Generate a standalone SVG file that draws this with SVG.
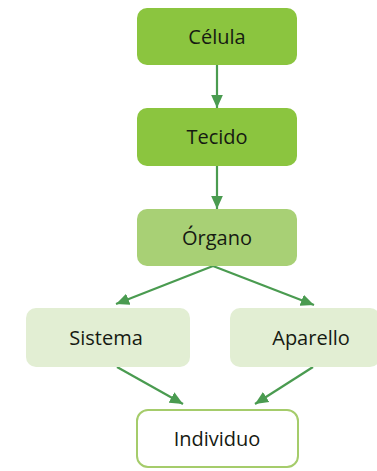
<svg xmlns="http://www.w3.org/2000/svg" width="377" height="471" viewBox="0 0 377 471">
<style>
.t{font-family:"Open Sans","DejaVu Sans",sans-serif;font-size:20px;fill:#161a12;text-anchor:middle}
.c{stroke:#4a9b50;stroke-width:2.2;fill:none}
</style>
<defs>
<marker id="ah" viewBox="0 0 10 10" refX="10" refY="5" markerWidth="6" markerHeight="6" orient="auto" markerUnits="strokeWidth">
<path d="M0,0.5 L10,5 L0,9.5 z" fill="#4a9b50"/>
</marker>
</defs>
<rect width="377" height="471" fill="#ffffff"/>
<g id="connectors">
<line class="c" x1="217" y1="65" x2="217" y2="108" marker-end="url(#ah)"/>
<line class="c" x1="217" y1="166" x2="217" y2="209" marker-end="url(#ah)"/>
<line class="c" x1="213" y1="266" x2="116" y2="304" marker-end="url(#ah)"/>
<line class="c" x1="213" y1="266" x2="314" y2="305" marker-end="url(#ah)"/>
<line class="c" x1="117" y1="367" x2="183" y2="404" marker-end="url(#ah)"/>
<line class="c" x1="313" y1="367" x2="255" y2="404" marker-end="url(#ah)"/>
</g>
<g id="celula">
<rect x="137" y="8" width="160" height="57" rx="10" fill="#8bc53f"/>
<text class="t" x="217" y="44">Célula</text>
</g>
<g id="tecido">
<rect x="137" y="108" width="160" height="58" rx="10" fill="#8bc53f"/>
<text class="t" x="217" y="144">Tecido</text>
</g>
<g id="organo">
<rect x="137" y="209" width="160" height="57" rx="10" fill="#a8d075"/>
<text class="t" x="217" y="245">Órgano</text>
</g>
<g id="sistema">
<rect x="26" y="308" width="164" height="59" rx="10" fill="#e2eed3"/>
<text class="t" x="106" y="345">Sistema</text>
</g>
<g id="aparello">
<rect x="230" y="308" width="150" height="59" rx="10" fill="#e2eed3"/>
<text class="t" x="311" y="345">Aparello</text>
</g>
<g id="individuo">
<rect x="137" y="410" width="161" height="57" rx="11" fill="#ffffff" stroke="#a5cc6b" stroke-width="2"/>
<text class="t" x="217" y="446">Individuo</text>
</g>
</svg>
